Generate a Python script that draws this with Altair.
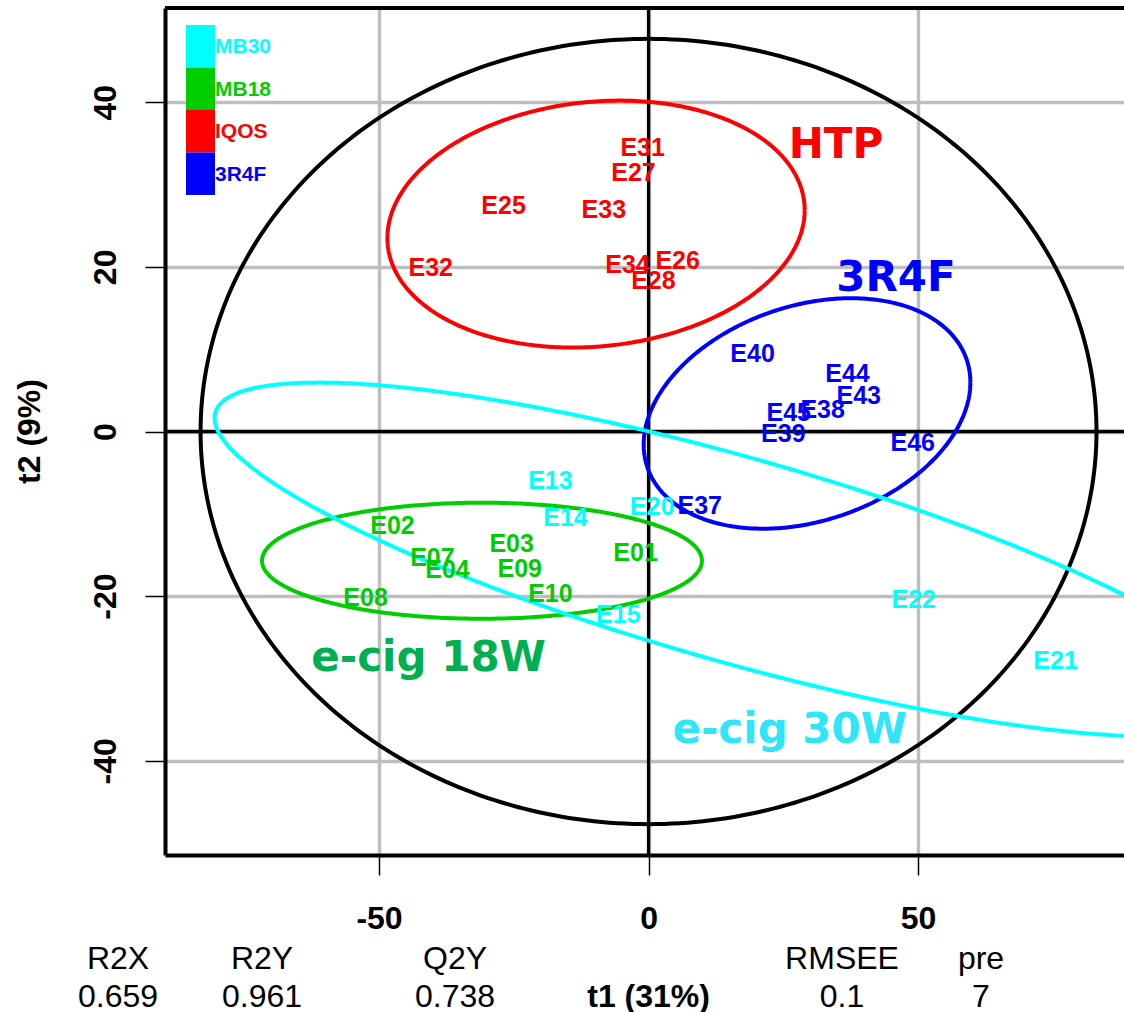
import numpy as np
import pandas as pd
import altair as alt

# ---------------- data ----------------
sample_ids = ["E31", "E27", "E25", "E33", "E32", "E34", "E26", "E28",
              "E40", "E44", "E43", "E45", "E38", "E39", "E46", "E37",
              "E02", "E07", "E04", "E03", "E09", "E10", "E01", "E08",
              "E13", "E14", "E20", "E15", "E22", "E21"]
sample_t1 = [-1.1, -2.8, -26.9, -8.3, -40.4, -3.9, 5.4, 0.9,
             19.3, 36.9, 39.0, 26.0, 32.3, 25.0, 49.0, 9.5,
             -47.5, -40.1, -37.3, -25.4, -23.9, -18.2, -2.4, -52.5,
             -18.2, -15.4, 0.7, -5.6, 49.2, 75.5]
sample_t2 = [34.65, 31.6, 27.6, 27.1, 20.1, 20.4, 20.9, 18.5,
             9.6, 7.2, 4.5, 2.4, 2.8, -0.1, -1.2, -8.9,
             -11.3, -15.2, -16.7, -13.5, -16.5, -19.5, -14.6, -20.1,
             -5.8, -10.3, -9.0, -22.1, -20.3, -27.7]
sample_group = ["IQOS"] * 8 + ["3R4F"] * 8 + ["MB18"] * 8 + ["MB30"] * 6

legend_groups = ["MB30", "MB18", "IQOS", "3R4F"]

# ellipses: Hotelling T2 (black) and one per group
ell_names = ["T2", "IQOS", "3R4F", "MB18", "MB30"]
ell_cx = [0.0, -9.74, 29.4, -30.9, 16.0]
ell_cy = [0.0, 25.2, 2.19, -15.7, -15.55]
ell_hx = [83.1, 38.7, 30.3, 40.8, 96.5]
ell_hy = [47.7, 15.0, 14.0, 7.05, 21.49]
ell_rho = [0.0, 0.113, 0.27, 0.0, -0.80]

ann_text = ["HTP", "3R4F", "e-cig 18W", "e-cig 30W"]
ann_t1 = [34.76, 45.9, -40.8, 26.2]
ann_t2 = [35.05, 19.0, -27.2, -35.96]

stat_names = ["R2X", "R2Y", "Q2Y", "RMSEE", "pre"]
stat_values = ["0.659", "0.961", "0.738", "0.1", "7"]

x_title = "t1 (31%)"
y_title = "t2 (9%)"
x_ticks = [-50, 0, 50]
y_ticks = [-40, -20, 0, 20, 40]

# ---------------- styles / layout ----------------
GROUP_COLORS = {"MB30": "#00FFFF", "MB18": "#00CD00", "IQOS": "#FF0000",
                "3R4F": "#0000FF", "T2": "#000000"}
ANN_COLORS = ["#FF0000", "#0000FF", "#00B050", "#2DE6FA"]
FONT = "Liberation Sans"
ANN_FONT = "DejaVu Sans"

W, H = 959, 847
PAD_L, PAD_T = 165, 8
X_DOMAIN = [-89.7, 88.2]
Y_DOMAIN = [-51.45, 51.45]
STAT_X_PX = [118, 262, 455, 842, 981]
XTITLE_PX = 648.6
ROW1_Y, ROW2_Y = 957 + 2, 994.5 + 2

color_scale = alt.Scale(domain=list(GROUP_COLORS.keys()),
                        range=list(GROUP_COLORS.values()))

xs = alt.Scale(domain=X_DOMAIN, nice=False, zero=False)
ys = alt.Scale(domain=Y_DOMAIN, nice=False, zero=False)

# ---------------- tables ----------------
samples = pd.DataFrame({"id": sample_ids, "t1": sample_t1, "t2": sample_t2,
                        "group": sample_group})

ang = np.linspace(0, 2 * np.pi, 361)
rows = []
for n, cx, cy, hx, hy, r in zip(ell_names, ell_cx, ell_cy, ell_hx, ell_hy, ell_rho):
    s = np.sqrt(1 - r * r)
    for i, a in enumerate(ang):
        rows.append({"group": n, "i": i,
                     "t1": cx + hx * np.cos(a),
                     "t2": cy + hy * (r * np.cos(a) + s * np.sin(a))})
ellipses = pd.DataFrame(rows)

zero_df = pd.DataFrame({"v": [0.0]})

# ---------------- layers ----------------
base_x = alt.X("t1:Q", scale=xs,
               axis=alt.Axis(values=x_ticks, title=None, grid=True,
                             gridColor="#BEBEBE", gridWidth=3.5,
                             domainColor="black", domainWidth=4,
                             tickColor="black", tickSize=20, tickWidth=1.5,
                             labelExpr="'' + datum.value",
                             labelFont=FONT, labelFontSize=32, labelFontWeight="bold",
                             labelColor="black", labelPadding=43,
                             labelBaseline="middle", labelFlush=False))
base_y = alt.Y("t2:Q", scale=ys,
               axis=alt.Axis(values=y_ticks, title=y_title, grid=True,
                             gridColor="#BEBEBE", gridWidth=3.5,
                             domainColor="black", domainWidth=4,
                             tickColor="black", tickSize=20, tickWidth=1.5,
                             labelExpr="'' + datum.value",
                             labelFont=FONT, labelFontSize=32, labelFontWeight="bold",
                             labelColor="black", labelAngle=270, labelAlign="center",
                             labelBaseline="middle", labelPadding=40, labelFlush=False,
                             titleFont=FONT, titleFontSize=32, titleFontWeight="bold",
                             titleColor="black", titleAngle=270, titleX=29 - PAD_L,
                             titleY=431 - PAD_T, titleAlign="center",
                             titleBaseline="middle"))

ell_layer = alt.Chart(ellipses).mark_line(strokeWidth=4, clip=True).encode(
    x=base_x, y=base_y,
    color=alt.Color("group:N", scale=color_scale, legend=None),
    detail="group:N",
    order="i:Q")

vline = alt.Chart(zero_df).mark_rule(color="black", strokeWidth=3.3).encode(
    x=alt.X("v:Q", scale=xs))
hline = alt.Chart(zero_df).mark_rule(color="black", strokeWidth=3.3).encode(
    y=alt.Y("v:Q", scale=ys))

top_border = alt.Chart(zero_df).mark_rule(color="black", strokeWidth=4).encode(
    x=alt.value(0), x2=alt.value(W), y=alt.value(0))

labels = alt.Chart(samples).mark_text(font=FONT, fontSize=25, fontWeight="bold",
                                      baseline="middle", align="center", dy=1.5).encode(
    x=alt.X("t1:Q", scale=xs), y=alt.Y("t2:Q", scale=ys), text="id:N",
    color=alt.Color("group:N", scale=color_scale, legend=None))

layers = [vline, hline, ell_layer, top_border, labels]

for txt, a1, a2, c in zip(ann_text, ann_t1, ann_t2, ANN_COLORS):
    d = pd.DataFrame({"t1": [a1], "t2": [a2], "label": [txt]})
    layers.append(alt.Chart(d).mark_text(font=ANN_FONT, fontSize=42, fontWeight="bold",
                                         baseline="middle", align="center", dy=2.5,
                                         color=c).encode(
        x=alt.X("t1:Q", scale=xs), y=alt.Y("t2:Q", scale=ys), text="label:N"))

# legend (top-left colour blocks)
LEG_X0, LEG_X1 = 186 - PAD_L, 215 - PAD_L
LEG_TOP, LEG_H = 25 - PAD_T, 42.5
for k, g in enumerate(legend_groups):
    d = pd.DataFrame({"group": [g]})
    y0 = LEG_TOP + k * LEG_H
    layers.append(alt.Chart(d).mark_rect().encode(
        x=alt.value(LEG_X0), x2=alt.value(LEG_X1),
        y=alt.value(y0), y2=alt.value(y0 + LEG_H),
        color=alt.Color("group:N", scale=color_scale, legend=None)))
    layers.append(alt.Chart(d).mark_text(font=FONT, fontSize=21, fontWeight="bold",
                                         align="left", baseline="middle", dy=1).encode(
        x=alt.value(LEG_X1), y=alt.value(y0 + LEG_H / 2), text="group:N",
        color=alt.Color("group:N", scale=color_scale, legend=None)))

# model statistics below the plot
for nm, val, px in zip(stat_names, stat_values, STAT_X_PX):
    d = pd.DataFrame({"name": [nm], "value": [val]})
    layers.append(alt.Chart(d).mark_text(font=FONT, fontSize=32, color="black",
                                         align="center", baseline="middle").encode(
        x=alt.value(px - PAD_L), y=alt.value(ROW1_Y - PAD_T), text="name:N"))
    layers.append(alt.Chart(d).mark_text(font=FONT, fontSize=32, color="black",
                                         align="center", baseline="middle").encode(
        x=alt.value(px - PAD_L), y=alt.value(ROW2_Y - PAD_T), text="value:N"))

# x-axis title, on the statistics row
xt = pd.DataFrame({"label": [x_title]})
layers.append(alt.Chart(xt).mark_text(font=FONT, fontSize=32, fontWeight="bold",
                                      color="black", align="center",
                                      baseline="middle").encode(
    x=alt.value(XTITLE_PX - PAD_L), y=alt.value(ROW2_Y - PAD_T), text="label:N"))

chart = alt.layer(*layers).properties(
    width=W, height=H,
    autosize=alt.AutoSizeParams(type="none"),
    padding={"left": PAD_L, "top": PAD_T, "right": 0, "bottom": 1012 - PAD_T - H},
    background="white",
).configure_view(stroke=None)

chart.save("out.html", embed_options={"renderer": "svg", "actions": False})
